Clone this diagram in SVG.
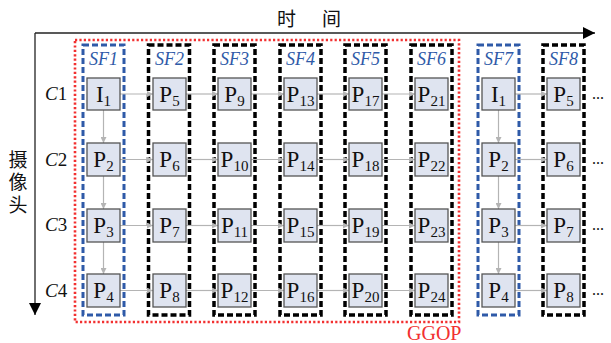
<svg xmlns="http://www.w3.org/2000/svg" width="611" height="343" viewBox="0 0 611 343" font-family="Liberation Serif, serif">
<defs>
<marker id="ah" viewBox="0 0 10 10" refX="10" refY="5" markerWidth="6" markerHeight="6" orient="auto" markerUnits="userSpaceOnUse"><path d="M0,0 L10,5 L0,10 z" fill="#b4b4b4"/></marker>
<marker id="axh" viewBox="0 0 10 10" refX="10" refY="5" markerWidth="12" markerHeight="12" orient="auto" markerUnits="userSpaceOnUse"><path d="M0,0 L10,5 L0,10 z" fill="#000"/></marker>
<style>
text{font-family:"Liberation Serif",serif}
.node{fill:#dfe4f0;stroke:#555;stroke-width:1.3}
.nt{font-size:23px;fill:#111;text-anchor:middle}
.sub{font-size:15px}
.sfb{fill:none;stroke:#2f5aa8;stroke-width:3;stroke-dasharray:6 3}
.sfk{fill:none;stroke:#000;stroke-width:3.5;stroke-dasharray:6 3}
.sfl{font-style:italic;font-size:18px;fill:#2f5aa8;text-anchor:middle}
.cl{font-size:19px;fill:#111}
text.cjk{font-family:"Noto Sans CJK SC",sans-serif;font-size:19px;fill:#111}
.ar{stroke:#b4b4b4;stroke-width:1.2;fill:none;marker-end:url(#ah)}
.dots{font-size:16px;fill:#111}
</style>
</defs>
<rect width="611" height="343" fill="#fff"/>
<g id="axes">
<line x1="35" y1="33" x2="595" y2="33" stroke="#222" stroke-width="1.3" marker-end="url(#axh)"/>
<line x1="35" y1="33" x2="35" y2="315" stroke="#222" stroke-width="1.3" marker-end="url(#axh)"/>
<text class="cjk" x="277" y="26">时</text>
<text class="cjk" x="322" y="26">间</text>
<text class="cjk" x="18" y="150" writing-mode="tb" style="writing-mode:vertical-rl" letter-spacing="3.5">摄像头</text>
</g>
<g id="rowlabels">
<text class="cl" x="45" y="100"><tspan font-style="italic">C</tspan>1</text>
<text class="cl" x="45" y="166"><tspan font-style="italic">C</tspan>2</text>
<text class="cl" x="45" y="231"><tspan font-style="italic">C</tspan>3</text>
<text class="cl" x="45" y="297"><tspan font-style="italic">C</tspan>4</text>
</g>
<g id="ggop">
<rect x="75" y="40" width="384" height="282" fill="none" stroke="#f23030" stroke-width="2.6" stroke-dasharray="2.2 2.2"/>
<text x="407" y="340" font-size="20" fill="#f23030">GGOP</text>
</g>
<g id="frames">
<g id="sf1"><rect class="sfb" x="83" y="45" width="41" height="270"/><text class="sfl" x="103.5" y="65">SF1</text></g>
<g id="sf2"><rect class="sfk" x="148.5" y="45" width="41" height="270"/><text class="sfl" x="169.5" y="65">SF2</text></g>
<g id="sf3"><rect class="sfk" x="214" y="45" width="41" height="270"/><text class="sfl" x="234.5" y="65">SF3</text></g>
<g id="sf4"><rect class="sfk" x="280" y="45" width="41" height="270"/><text class="sfl" x="300.5" y="65">SF4</text></g>
<g id="sf5"><rect class="sfk" x="345" y="45" width="41" height="270"/><text class="sfl" x="365.5" y="65">SF5</text></g>
<g id="sf6"><rect class="sfk" x="411" y="45" width="41" height="270"/><text class="sfl" x="431.5" y="65">SF6</text></g>
<g id="sf7"><rect class="sfb" x="478" y="45" width="41" height="270"/><text class="sfl" x="498.5" y="65">SF7</text></g>
<g id="sf8"><rect class="sfk" x="543" y="45" width="41" height="270"/><text class="sfl" x="563.5" y="65">SF8</text></g>
</g>
<g id="connectors">
<line class="ar" x1="103.5" y1="110" x2="103.5" y2="143"/>
<line class="ar" x1="103.5" y1="176" x2="103.5" y2="209"/>
<line class="ar" x1="103.5" y1="242" x2="103.5" y2="274"/>
<line class="ar" x1="498.5" y1="110" x2="498.5" y2="143"/>
<line class="ar" x1="498.5" y1="176" x2="498.5" y2="209"/>
<line class="ar" x1="498.5" y1="242" x2="498.5" y2="274"/>
<path class="ar" d="M120,94 H153"/><path class="ar" d="M186,94 H218"/><path class="ar" d="M251,94 H284"/><path class="ar" d="M317,94 H349"/><path class="ar" d="M382,94 H415"/><path class="ar" d="M515,94 H547"/>
<path class="ar" d="M120,159.5 H153"/><path class="ar" d="M186,159.5 H218"/><path class="ar" d="M251,159.5 H284"/><path class="ar" d="M317,159.5 H349"/><path class="ar" d="M382,159.5 H415"/><path class="ar" d="M515,159.5 H547"/>
<path class="ar" d="M120,225.5 H153"/><path class="ar" d="M186,225.5 H218"/><path class="ar" d="M251,225.5 H284"/><path class="ar" d="M317,225.5 H349"/><path class="ar" d="M382,225.5 H415"/><path class="ar" d="M515,225.5 H547"/>
<path class="ar" d="M120,290.5 H153"/><path class="ar" d="M186,290.5 H218"/><path class="ar" d="M251,290.5 H284"/><path class="ar" d="M317,290.5 H349"/><path class="ar" d="M382,290.5 H415"/><path class="ar" d="M515,290.5 H547"/>
</g>
<g id="nodes">
<g id="n-I1a"><rect class="node" x="87" y="78" width="33" height="32"/><text class="nt" x="103.5" y="102">I<tspan class="sub" dy="4">1</tspan></text></g>
<g id="n-P2a"><rect class="node" x="87" y="143" width="33" height="33"/><text class="nt" x="103.5" y="167">P<tspan class="sub" dy="4">2</tspan></text></g>
<g id="n-P3a"><rect class="node" x="87" y="209" width="33" height="33"/><text class="nt" x="103.5" y="233">P<tspan class="sub" dy="4">3</tspan></text></g>
<g id="n-P4a"><rect class="node" x="87" y="274" width="33" height="33"/><text class="nt" x="103.5" y="298">P<tspan class="sub" dy="4">4</tspan></text></g>
<g id="n-P5a"><rect class="node" x="153" y="78" width="33" height="32"/><text class="nt" x="169.5" y="102">P<tspan class="sub" dy="4">5</tspan></text></g>
<g id="n-P6a"><rect class="node" x="153" y="143" width="33" height="33"/><text class="nt" x="169.5" y="167">P<tspan class="sub" dy="4">6</tspan></text></g>
<g id="n-P7a"><rect class="node" x="153" y="209" width="33" height="33"/><text class="nt" x="169.5" y="233">P<tspan class="sub" dy="4">7</tspan></text></g>
<g id="n-P8a"><rect class="node" x="153" y="274" width="33" height="33"/><text class="nt" x="169.5" y="298">P<tspan class="sub" dy="4">8</tspan></text></g>
<g id="n-P9"><rect class="node" x="218" y="78" width="33" height="32"/><text class="nt" x="234.5" y="102">P<tspan class="sub" dy="4">9</tspan></text></g>
<g id="n-P10"><rect class="node" x="218" y="143" width="33" height="33"/><text class="nt" x="234.5" y="167">P<tspan class="sub" dy="4">10</tspan></text></g>
<g id="n-P11"><rect class="node" x="218" y="209" width="33" height="33"/><text class="nt" x="234.5" y="233">P<tspan class="sub" dy="4">11</tspan></text></g>
<g id="n-P12"><rect class="node" x="218" y="274" width="33" height="33"/><text class="nt" x="234.5" y="298">P<tspan class="sub" dy="4">12</tspan></text></g>
<g id="n-P13"><rect class="node" x="284" y="78" width="33" height="32"/><text class="nt" x="300.5" y="102">P<tspan class="sub" dy="4">13</tspan></text></g>
<g id="n-P14"><rect class="node" x="284" y="143" width="33" height="33"/><text class="nt" x="300.5" y="167">P<tspan class="sub" dy="4">14</tspan></text></g>
<g id="n-P15"><rect class="node" x="284" y="209" width="33" height="33"/><text class="nt" x="300.5" y="233">P<tspan class="sub" dy="4">15</tspan></text></g>
<g id="n-P16"><rect class="node" x="284" y="274" width="33" height="33"/><text class="nt" x="300.5" y="298">P<tspan class="sub" dy="4">16</tspan></text></g>
<g id="n-P17"><rect class="node" x="349" y="78" width="33" height="32"/><text class="nt" x="365.5" y="102">P<tspan class="sub" dy="4">17</tspan></text></g>
<g id="n-P18"><rect class="node" x="349" y="143" width="33" height="33"/><text class="nt" x="365.5" y="167">P<tspan class="sub" dy="4">18</tspan></text></g>
<g id="n-P19"><rect class="node" x="349" y="209" width="33" height="33"/><text class="nt" x="365.5" y="233">P<tspan class="sub" dy="4">19</tspan></text></g>
<g id="n-P20"><rect class="node" x="349" y="274" width="33" height="33"/><text class="nt" x="365.5" y="298">P<tspan class="sub" dy="4">20</tspan></text></g>
<g id="n-P21"><rect class="node" x="415" y="78" width="33" height="32"/><text class="nt" x="431.5" y="102">P<tspan class="sub" dy="4">21</tspan></text></g>
<g id="n-P22"><rect class="node" x="415" y="143" width="33" height="33"/><text class="nt" x="431.5" y="167">P<tspan class="sub" dy="4">22</tspan></text></g>
<g id="n-P23"><rect class="node" x="415" y="209" width="33" height="33"/><text class="nt" x="431.5" y="233">P<tspan class="sub" dy="4">23</tspan></text></g>
<g id="n-P24"><rect class="node" x="415" y="274" width="33" height="33"/><text class="nt" x="431.5" y="298">P<tspan class="sub" dy="4">24</tspan></text></g>
<g id="n-I1b"><rect class="node" x="482" y="78" width="33" height="32"/><text class="nt" x="498.5" y="102">I<tspan class="sub" dy="4">1</tspan></text></g>
<g id="n-P2b"><rect class="node" x="482" y="143" width="33" height="33"/><text class="nt" x="498.5" y="167">P<tspan class="sub" dy="4">2</tspan></text></g>
<g id="n-P3b"><rect class="node" x="482" y="209" width="33" height="33"/><text class="nt" x="498.5" y="233">P<tspan class="sub" dy="4">3</tspan></text></g>
<g id="n-P4b"><rect class="node" x="482" y="274" width="33" height="33"/><text class="nt" x="498.5" y="298">P<tspan class="sub" dy="4">4</tspan></text></g>
<g id="n-P5b"><rect class="node" x="547" y="78" width="33" height="32"/><text class="nt" x="563.5" y="102">P<tspan class="sub" dy="4">5</tspan></text></g>
<g id="n-P6b"><rect class="node" x="547" y="143" width="33" height="33"/><text class="nt" x="563.5" y="167">P<tspan class="sub" dy="4">6</tspan></text></g>
<g id="n-P7b"><rect class="node" x="547" y="209" width="33" height="33"/><text class="nt" x="563.5" y="233">P<tspan class="sub" dy="4">7</tspan></text></g>
<g id="n-P8b"><rect class="node" x="547" y="274" width="33" height="33"/><text class="nt" x="563.5" y="298">P<tspan class="sub" dy="4">8</tspan></text></g>
</g>
<g id="ellipses">
<text class="dots" x="592" y="99">...</text>
<text class="dots" x="592" y="164">...</text>
<text class="dots" x="592" y="230">...</text>
<text class="dots" x="592" y="295">...</text>
</g>
</svg>
